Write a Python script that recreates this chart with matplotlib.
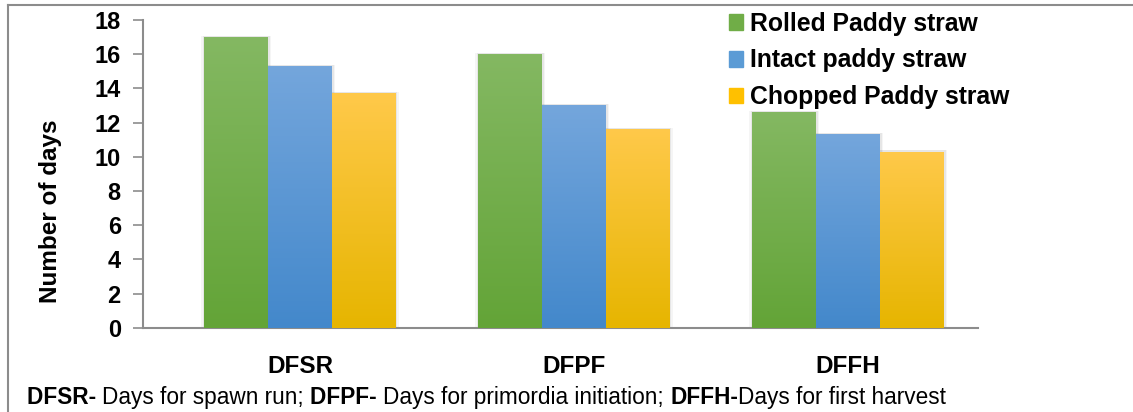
import matplotlib
matplotlib.use("Agg")
import matplotlib.pyplot as plt
import numpy as np
from matplotlib.colors import LinearSegmentedColormap
from matplotlib.lines import Line2D

categories = ["DFSR", "DFPF", "DFFH"]
series = ["Rolled Paddy straw", "Intact paddy straw", "Chopped Paddy straw"]
rolled = [17.0, 16.0, 12.6]
intact = [15.3, 13.0, 11.33]
chopped = [13.7, 11.6, 10.3]
yticks = [0, 2, 4, 6, 8, 10, 12, 14, 16, 18]
footnote = [("DFSR- ", "bold"), ("Days for spawn run; ", "normal"),
            ("DFPF- ", "bold"), ("Days for primordia initiation; ", "normal"),
            ("DFFH-", "bold"), ("Days for first harvest", "normal")]

# top colour, bottom colour, solid colour for legend
colours = [("#84b862", "#63a437", "#70ad47"),
           ("#74a6dc", "#4388cb", "#5b9bd5"),
           ("#ffc94a", "#e6b500", "#ffc000")]

plt.rcParams['font.family'] = ['Liberation Sans', 'DejaVu Sans']


def main():
    fig = plt.figure(figsize=(11.33, 4.12), dpi=100)
    ax = fig.add_axes([0.1262, 0.2046, 0.7370, 0.7469])

    x = np.arange(len(categories))
    w = 0.233
    values = [rolled, intact, chopped]
    grad = np.linspace(0, 1, 256).reshape(-1, 1)
    for i, vals in enumerate(values):
        top, bottom, solid = colours[i]
        bars = ax.bar(x + (i - 1) * w, vals, w, color=solid, label=series[i],
                      zorder=2)
        cmap = LinearSegmentedColormap.from_list("g%d" % i, [bottom, top])
        for b in bars:
            x0, y0 = b.get_x(), b.get_y()
            bw, bh = b.get_width(), b.get_height()
            # soft shadow
            for k, a in [(0.022, 0.04), (0.012, 0.06)]:
                ax.bar(x0 + bw / 2, bh + 0.08, bw + k, bottom=0, color="#000000",
                       alpha=a, zorder=1, linewidth=0)
            im = ax.imshow(grad, cmap=cmap, origin="lower", aspect="auto",
                           extent=[x0, x0 + bw, y0, y0 + bh], zorder=3)
            im.set_clip_path(b)

    ax.set_xlim(-0.573, 2.474)
    ax.set_ylim(0, 18)
    ax.set_yticks(yticks)
    ax.set_yticklabels([str(t) for t in yticks], fontsize=17, fontweight="bold")
    ax.set_xticks(x)
    ax.set_xticklabels(categories, fontsize=17.5, fontweight="bold")
    ax.tick_params(axis="x", length=0, pad=20)
    ax.tick_params(axis="y", length=7, width=1.2, color="#8c8c8c", pad=9)
    for s in ["top", "right"]:
        ax.spines[s].set_visible(False)
    for s in ["left", "bottom"]:
        ax.spines[s].set_color("#8c8c8c")
        ax.spines[s].set_linewidth(1.5)
    ax.set_ylabel("Number of days", fontsize=17.5, fontweight="bold")
    ax.yaxis.set_label_coords(-0.097, 0.38)

    handles = [plt.Rectangle((0, 0), 1, 1, color=c[2]) for c in colours]
    fig.legend(handles, series, loc="upper left", bbox_to_anchor=(0.643, 0.972),
               frameon=False, prop={"size": 17.8, "weight": "bold"},
               handlelength=0.6, handleheight=0.6, handletextpad=0.25,
               labelspacing=0.52, borderpad=0, borderaxespad=0)

    # outer frame
    fig.add_artist(Line2D([8 / 1133, 8 / 1133], [0, 1 - 5 / 412], color="#8c8c8c",
                          lw=1.5, transform=fig.transFigure))
    fig.add_artist(Line2D([8 / 1133, 1], [1 - 5 / 412, 1 - 5 / 412], color="#8c8c8c",
                          lw=1.5, transform=fig.transFigure))

    # footnote with mixed weights
    tx = 27 / 1133
    ty = 1 - 404 / 412
    renderer = fig.canvas.get_renderer()
    for txt, wt in footnote:
        t = fig.text(tx, ty, txt, fontsize=16.3, fontweight=wt, ha="left",
                     va="baseline")
        bb = t.get_window_extent(renderer=renderer)
        tx += bb.width / fig.bbox.width

    fig.savefig("out.png", dpi=100)


if __name__ == "__main__":
    main()
